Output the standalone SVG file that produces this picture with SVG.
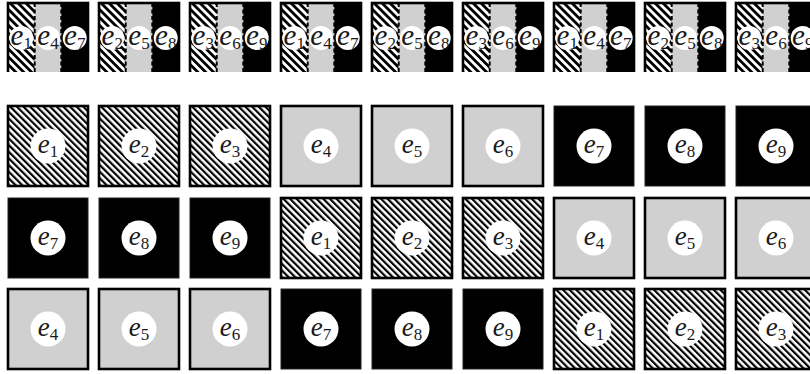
<svg xmlns="http://www.w3.org/2000/svg" width="810" height="374" viewBox="0 0 810 374">
  <defs>
    <!-- diagonal "\" hatching for the e1..e3 tiles -->
    <pattern id="hatch" patternUnits="userSpaceOnUse" width="4.7" height="10" patternTransform="rotate(-45)">
      <rect x="0" y="0" width="4.7" height="10" fill="#fff"/>
      <rect x="0" y="0" width="2.2" height="10" fill="#000"/>
    </pattern>
    <!-- coarser hatching used in the small strips of the composite tiles -->
    <pattern id="hatchTop" patternUnits="userSpaceOnUse" width="5.6" height="10" patternTransform="rotate(-45)">
      <rect x="0" y="0" width="5.6" height="10" fill="#fff"/>
      <rect x="0" y="0" width="2.8" height="10" fill="#000"/>
    </pattern>
    <clipPath id="clipTop"><rect x="0" y="0" width="810" height="72"/></clipPath>
  </defs>
  <style>
    .hat { fill: url(#hatch); stroke: #000; stroke-width: 2.6; }
    .hatT { fill: url(#hatchTop); }
    .gry { fill: #d0d0d0; stroke: #000; stroke-width: 2.6; }
    .gryT { fill: #d0d0d0; }
    .blk { fill: #000; stroke: #222; stroke-width: 1; }
    .blkT { fill: #000; }
    .dot { fill: #fff; }
    .sep { stroke: #000; stroke-width: 2; stroke-dasharray: 4 2.5; fill: none; }
    .frame { fill: none; stroke: #000; stroke-width: 2.6; }
    .lbl { font-family: "Liberation Serif", "DejaVu Serif", serif; font-size: 27px; font-style: italic; fill: #1a1a1a; text-anchor: middle; }
    .big { font-size: 29px; }
    .sub { font-size: 17px; font-style: normal; }
  </style>

  <!-- Top row: composite tiles, three vertical strips each (hatched | grey | black) -->
  <g id="composites" clip-path="url(#clipTop)">
    <g id="mix-1-4-7" transform="translate(8,3)">
      <rect class="hatT" x="0" y="0" width="26.7" height="80"/>
      <rect class="gryT" x="26.7" y="0" width="26.6" height="80"/>
      <rect class="blkT" x="53.3" y="0" width="26.7" height="80"/>
      <line class="sep" x1="26.7" y1="0" x2="26.7" y2="80"/>
      <line class="sep" x1="53.3" y1="0" x2="53.3" y2="80"/>
      <rect class="frame" x="0" y="0" width="80" height="80"/>
      <circle class="dot" cx="13.3" cy="35" r="12"/><circle class="dot" cx="40" cy="35" r="12"/><circle class="dot" cx="66.7" cy="35" r="12"/>
      <text class="lbl big" x="13.3" y="42">e<tspan class="sub" dy="4">1</tspan></text>
      <text class="lbl big" x="40" y="42">e<tspan class="sub" dy="4">4</tspan></text>
      <text class="lbl big" x="66.7" y="42">e<tspan class="sub" dy="4">7</tspan></text>
    </g>
    <g id="mix-2-5-8" transform="translate(99,3)">
      <rect class="hatT" x="0" y="0" width="26.7" height="80"/>
      <rect class="gryT" x="26.7" y="0" width="26.6" height="80"/>
      <rect class="blkT" x="53.3" y="0" width="26.7" height="80"/>
      <line class="sep" x1="26.7" y1="0" x2="26.7" y2="80"/>
      <line class="sep" x1="53.3" y1="0" x2="53.3" y2="80"/>
      <rect class="frame" x="0" y="0" width="80" height="80"/>
      <circle class="dot" cx="13.3" cy="35" r="12"/><circle class="dot" cx="40" cy="35" r="12"/><circle class="dot" cx="66.7" cy="35" r="12"/>
      <text class="lbl big" x="13.3" y="42">e<tspan class="sub" dy="4">2</tspan></text>
      <text class="lbl big" x="40" y="42">e<tspan class="sub" dy="4">5</tspan></text>
      <text class="lbl big" x="66.7" y="42">e<tspan class="sub" dy="4">8</tspan></text>
    </g>
    <g id="mix-3-6-9" transform="translate(190,3)">
      <rect class="hatT" x="0" y="0" width="26.7" height="80"/>
      <rect class="gryT" x="26.7" y="0" width="26.6" height="80"/>
      <rect class="blkT" x="53.3" y="0" width="26.7" height="80"/>
      <line class="sep" x1="26.7" y1="0" x2="26.7" y2="80"/>
      <line class="sep" x1="53.3" y1="0" x2="53.3" y2="80"/>
      <rect class="frame" x="0" y="0" width="80" height="80"/>
      <circle class="dot" cx="13.3" cy="35" r="12"/><circle class="dot" cx="40" cy="35" r="12"/><circle class="dot" cx="66.7" cy="35" r="12"/>
      <text class="lbl big" x="13.3" y="42">e<tspan class="sub" dy="4">3</tspan></text>
      <text class="lbl big" x="40" y="42">e<tspan class="sub" dy="4">6</tspan></text>
      <text class="lbl big" x="66.7" y="42">e<tspan class="sub" dy="4">9</tspan></text>
    </g>
    <g id="mix-1-4-7-b" transform="translate(281,3)">
      <rect class="hatT" x="0" y="0" width="26.7" height="80"/>
      <rect class="gryT" x="26.7" y="0" width="26.6" height="80"/>
      <rect class="blkT" x="53.3" y="0" width="26.7" height="80"/>
      <line class="sep" x1="26.7" y1="0" x2="26.7" y2="80"/>
      <line class="sep" x1="53.3" y1="0" x2="53.3" y2="80"/>
      <rect class="frame" x="0" y="0" width="80" height="80"/>
      <circle class="dot" cx="13.3" cy="35" r="12"/><circle class="dot" cx="40" cy="35" r="12"/><circle class="dot" cx="66.7" cy="35" r="12"/>
      <text class="lbl big" x="13.3" y="42">e<tspan class="sub" dy="4">1</tspan></text>
      <text class="lbl big" x="40" y="42">e<tspan class="sub" dy="4">4</tspan></text>
      <text class="lbl big" x="66.7" y="42">e<tspan class="sub" dy="4">7</tspan></text>
    </g>
    <g id="mix-2-5-8-b" transform="translate(372,3)">
      <rect class="hatT" x="0" y="0" width="26.7" height="80"/>
      <rect class="gryT" x="26.7" y="0" width="26.6" height="80"/>
      <rect class="blkT" x="53.3" y="0" width="26.7" height="80"/>
      <line class="sep" x1="26.7" y1="0" x2="26.7" y2="80"/>
      <line class="sep" x1="53.3" y1="0" x2="53.3" y2="80"/>
      <rect class="frame" x="0" y="0" width="80" height="80"/>
      <circle class="dot" cx="13.3" cy="35" r="12"/><circle class="dot" cx="40" cy="35" r="12"/><circle class="dot" cx="66.7" cy="35" r="12"/>
      <text class="lbl big" x="13.3" y="42">e<tspan class="sub" dy="4">2</tspan></text>
      <text class="lbl big" x="40" y="42">e<tspan class="sub" dy="4">5</tspan></text>
      <text class="lbl big" x="66.7" y="42">e<tspan class="sub" dy="4">8</tspan></text>
    </g>
    <g id="mix-3-6-9-b" transform="translate(463,3)">
      <rect class="hatT" x="0" y="0" width="26.7" height="80"/>
      <rect class="gryT" x="26.7" y="0" width="26.6" height="80"/>
      <rect class="blkT" x="53.3" y="0" width="26.7" height="80"/>
      <line class="sep" x1="26.7" y1="0" x2="26.7" y2="80"/>
      <line class="sep" x1="53.3" y1="0" x2="53.3" y2="80"/>
      <rect class="frame" x="0" y="0" width="80" height="80"/>
      <circle class="dot" cx="13.3" cy="35" r="12"/><circle class="dot" cx="40" cy="35" r="12"/><circle class="dot" cx="66.7" cy="35" r="12"/>
      <text class="lbl big" x="13.3" y="42">e<tspan class="sub" dy="4">3</tspan></text>
      <text class="lbl big" x="40" y="42">e<tspan class="sub" dy="4">6</tspan></text>
      <text class="lbl big" x="66.7" y="42">e<tspan class="sub" dy="4">9</tspan></text>
    </g>
    <g id="mix-1-4-7-c" transform="translate(554,3)">
      <rect class="hatT" x="0" y="0" width="26.7" height="80"/>
      <rect class="gryT" x="26.7" y="0" width="26.6" height="80"/>
      <rect class="blkT" x="53.3" y="0" width="26.7" height="80"/>
      <line class="sep" x1="26.7" y1="0" x2="26.7" y2="80"/>
      <line class="sep" x1="53.3" y1="0" x2="53.3" y2="80"/>
      <rect class="frame" x="0" y="0" width="80" height="80"/>
      <circle class="dot" cx="13.3" cy="35" r="12"/><circle class="dot" cx="40" cy="35" r="12"/><circle class="dot" cx="66.7" cy="35" r="12"/>
      <text class="lbl big" x="13.3" y="42">e<tspan class="sub" dy="4">1</tspan></text>
      <text class="lbl big" x="40" y="42">e<tspan class="sub" dy="4">4</tspan></text>
      <text class="lbl big" x="66.7" y="42">e<tspan class="sub" dy="4">7</tspan></text>
    </g>
    <g id="mix-2-5-8-c" transform="translate(645,3)">
      <rect class="hatT" x="0" y="0" width="26.7" height="80"/>
      <rect class="gryT" x="26.7" y="0" width="26.6" height="80"/>
      <rect class="blkT" x="53.3" y="0" width="26.7" height="80"/>
      <line class="sep" x1="26.7" y1="0" x2="26.7" y2="80"/>
      <line class="sep" x1="53.3" y1="0" x2="53.3" y2="80"/>
      <rect class="frame" x="0" y="0" width="80" height="80"/>
      <circle class="dot" cx="13.3" cy="35" r="12"/><circle class="dot" cx="40" cy="35" r="12"/><circle class="dot" cx="66.7" cy="35" r="12"/>
      <text class="lbl big" x="13.3" y="42">e<tspan class="sub" dy="4">2</tspan></text>
      <text class="lbl big" x="40" y="42">e<tspan class="sub" dy="4">5</tspan></text>
      <text class="lbl big" x="66.7" y="42">e<tspan class="sub" dy="4">8</tspan></text>
    </g>
    <g id="mix-3-6-9-c" transform="translate(736,3)">
      <rect class="hatT" x="0" y="0" width="26.7" height="80"/>
      <rect class="gryT" x="26.7" y="0" width="26.6" height="80"/>
      <rect class="blkT" x="53.3" y="0" width="26.7" height="80"/>
      <line class="sep" x1="26.7" y1="0" x2="26.7" y2="80"/>
      <line class="sep" x1="53.3" y1="0" x2="53.3" y2="80"/>
      <rect class="frame" x="0" y="0" width="80" height="80"/>
      <circle class="dot" cx="13.3" cy="35" r="12"/><circle class="dot" cx="40" cy="35" r="12"/><circle class="dot" cx="66.7" cy="35" r="12"/>
      <text class="lbl big" x="13.3" y="42">e<tspan class="sub" dy="4">3</tspan></text>
      <text class="lbl big" x="40" y="42">e<tspan class="sub" dy="4">6</tspan></text>
      <text class="lbl big" x="66.7" y="42">e<tspan class="sub" dy="4">9</tspan></text>
    </g>
  </g>

  <!-- Row 2: hatched, grey, black -->
  <g id="r2-e1" transform="translate(8,106)"><rect class="hat" width="80" height="80"/><circle class="dot" cx="40" cy="40" r="17.5"/><text class="lbl" x="40" y="47">e<tspan class="sub" dy="4">1</tspan></text></g>
  <g id="r2-e2" transform="translate(99,106)"><rect class="hat" width="80" height="80"/><circle class="dot" cx="40" cy="40" r="17.5"/><text class="lbl" x="40" y="47">e<tspan class="sub" dy="4">2</tspan></text></g>
  <g id="r2-e3" transform="translate(190,106)"><rect class="hat" width="80" height="80"/><circle class="dot" cx="40" cy="40" r="17.5"/><text class="lbl" x="40" y="47">e<tspan class="sub" dy="4">3</tspan></text></g>
  <g id="r2-e4" transform="translate(281,106)"><rect class="gry" width="80" height="80"/><circle class="dot" cx="40" cy="40" r="17.5"/><text class="lbl" x="40" y="47">e<tspan class="sub" dy="4">4</tspan></text></g>
  <g id="r2-e5" transform="translate(372,106)"><rect class="gry" width="80" height="80"/><circle class="dot" cx="40" cy="40" r="17.5"/><text class="lbl" x="40" y="47">e<tspan class="sub" dy="4">5</tspan></text></g>
  <g id="r2-e6" transform="translate(463,106)"><rect class="gry" width="80" height="80"/><circle class="dot" cx="40" cy="40" r="17.5"/><text class="lbl" x="40" y="47">e<tspan class="sub" dy="4">6</tspan></text></g>
  <g id="r2-e7" transform="translate(554,106)"><rect class="blk" width="80" height="80"/><circle class="dot" cx="40" cy="40" r="17.5"/><text class="lbl" x="40" y="47">e<tspan class="sub" dy="4">7</tspan></text></g>
  <g id="r2-e8" transform="translate(645,106)"><rect class="blk" width="80" height="80"/><circle class="dot" cx="40" cy="40" r="17.5"/><text class="lbl" x="40" y="47">e<tspan class="sub" dy="4">8</tspan></text></g>
  <g id="r2-e9" transform="translate(736,106)"><rect class="blk" width="80" height="80"/><circle class="dot" cx="40" cy="40" r="17.5"/><text class="lbl" x="40" y="47">e<tspan class="sub" dy="4">9</tspan></text></g>

  <!-- Row 3: black, hatched, grey -->
  <g id="r3-e7" transform="translate(8,198)"><rect class="blk" width="80" height="80"/><circle class="dot" cx="40" cy="40" r="17.5"/><text class="lbl" x="40" y="47">e<tspan class="sub" dy="4">7</tspan></text></g>
  <g id="r3-e8" transform="translate(99,198)"><rect class="blk" width="80" height="80"/><circle class="dot" cx="40" cy="40" r="17.5"/><text class="lbl" x="40" y="47">e<tspan class="sub" dy="4">8</tspan></text></g>
  <g id="r3-e9" transform="translate(190,198)"><rect class="blk" width="80" height="80"/><circle class="dot" cx="40" cy="40" r="17.5"/><text class="lbl" x="40" y="47">e<tspan class="sub" dy="4">9</tspan></text></g>
  <g id="r3-e1" transform="translate(281,198)"><rect class="hat" width="80" height="80"/><circle class="dot" cx="40" cy="40" r="17.5"/><text class="lbl" x="40" y="47">e<tspan class="sub" dy="4">1</tspan></text></g>
  <g id="r3-e2" transform="translate(372,198)"><rect class="hat" width="80" height="80"/><circle class="dot" cx="40" cy="40" r="17.5"/><text class="lbl" x="40" y="47">e<tspan class="sub" dy="4">2</tspan></text></g>
  <g id="r3-e3" transform="translate(463,198)"><rect class="hat" width="80" height="80"/><circle class="dot" cx="40" cy="40" r="17.5"/><text class="lbl" x="40" y="47">e<tspan class="sub" dy="4">3</tspan></text></g>
  <g id="r3-e4" transform="translate(554,198)"><rect class="gry" width="80" height="80"/><circle class="dot" cx="40" cy="40" r="17.5"/><text class="lbl" x="40" y="47">e<tspan class="sub" dy="4">4</tspan></text></g>
  <g id="r3-e5" transform="translate(645,198)"><rect class="gry" width="80" height="80"/><circle class="dot" cx="40" cy="40" r="17.5"/><text class="lbl" x="40" y="47">e<tspan class="sub" dy="4">5</tspan></text></g>
  <g id="r3-e6" transform="translate(736,198)"><rect class="gry" width="80" height="80"/><circle class="dot" cx="40" cy="40" r="17.5"/><text class="lbl" x="40" y="47">e<tspan class="sub" dy="4">6</tspan></text></g>

  <!-- Row 4: grey, black, hatched -->
  <g id="r4-e4" transform="translate(8,289)"><rect class="gry" width="80" height="80"/><circle class="dot" cx="40" cy="40" r="17.5"/><text class="lbl" x="40" y="47">e<tspan class="sub" dy="4">4</tspan></text></g>
  <g id="r4-e5" transform="translate(99,289)"><rect class="gry" width="80" height="80"/><circle class="dot" cx="40" cy="40" r="17.5"/><text class="lbl" x="40" y="47">e<tspan class="sub" dy="4">5</tspan></text></g>
  <g id="r4-e6" transform="translate(190,289)"><rect class="gry" width="80" height="80"/><circle class="dot" cx="40" cy="40" r="17.5"/><text class="lbl" x="40" y="47">e<tspan class="sub" dy="4">6</tspan></text></g>
  <g id="r4-e7" transform="translate(281,289)"><rect class="blk" width="80" height="80"/><circle class="dot" cx="40" cy="40" r="17.5"/><text class="lbl" x="40" y="47">e<tspan class="sub" dy="4">7</tspan></text></g>
  <g id="r4-e8" transform="translate(372,289)"><rect class="blk" width="80" height="80"/><circle class="dot" cx="40" cy="40" r="17.5"/><text class="lbl" x="40" y="47">e<tspan class="sub" dy="4">8</tspan></text></g>
  <g id="r4-e9" transform="translate(463,289)"><rect class="blk" width="80" height="80"/><circle class="dot" cx="40" cy="40" r="17.5"/><text class="lbl" x="40" y="47">e<tspan class="sub" dy="4">9</tspan></text></g>
  <g id="r4-e1" transform="translate(554,289)"><rect class="hat" width="80" height="80"/><circle class="dot" cx="40" cy="40" r="17.5"/><text class="lbl" x="40" y="47">e<tspan class="sub" dy="4">1</tspan></text></g>
  <g id="r4-e2" transform="translate(645,289)"><rect class="hat" width="80" height="80"/><circle class="dot" cx="40" cy="40" r="17.5"/><text class="lbl" x="40" y="47">e<tspan class="sub" dy="4">2</tspan></text></g>
  <g id="r4-e3" transform="translate(736,289)"><rect class="hat" width="80" height="80"/><circle class="dot" cx="40" cy="40" r="17.5"/><text class="lbl" x="40" y="47">e<tspan class="sub" dy="4">3</tspan></text></g>
</svg>
